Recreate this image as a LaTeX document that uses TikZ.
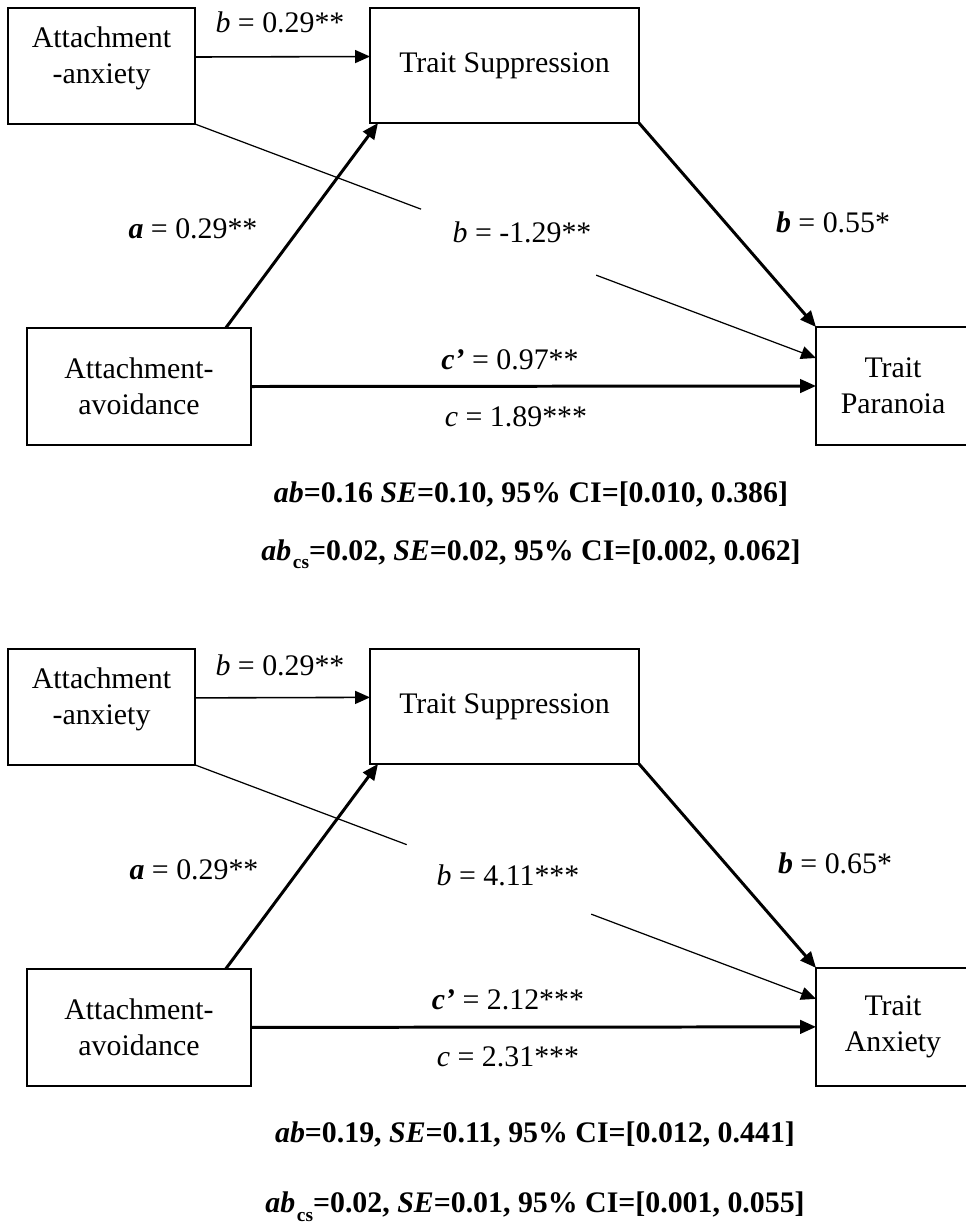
\documentclass[tikz,border=0pt]{standalone}
\usepackage{fontspec}
\setmainfont{Liberation Serif}
\usetikzlibrary{arrows.meta,calc}

\begin{document}
\begin{tikzpicture}[x=0.02cm, y=-0.02cm,
  box/.style={draw, line width=1.1pt, inner sep=0pt, outer sep=0pt, align=center, font=\fontsize{17}{20.5}\selectfont},
  lbl/.style={inner sep=0pt, font=\fontsize{17}{20.5}\selectfont},
  res/.style={inner sep=0pt, anchor=base, font=\fontsize{17}{20.5}\selectfont\bfseries},
  heavyarrow/.style={line width=1.7pt, -{Triangle[length=0.32cm,width=0.27cm]}},
  lightarrow/.style={line width=0.9pt, -{Triangle[length=0.3cm,width=0.26cm]}},
  thinline/.style={line width=0.7pt}]
\useasboundingbox (0,0) rectangle (966,1225);

% First model: trait paranoia
\node[box, line width=0.9pt, minimum width=3.74cm, minimum height=2.32cm] (anxA) at (101.5,66) {};
\node[lbl, align=center] (anxAtxt) at (101.5,58) {Attachment\\-anxiety};
\node[box, minimum width=5.38cm, minimum height=2.30cm] (suppA) at (504.5,65.5) {Trait Suppression};
\node[box, minimum width=4.48cm, minimum height=2.34cm] (avoidA) at (139,386.5) {Attachment-\\avoidance};
\node[box, minimum width=3.08cm, minimum height=2.36cm] (paraA) at (893,386) {Trait\\Paranoia};
% Paths
\draw[lightarrow] ($(anxA.east)+(0,-9)$) -- ($(suppA.west)+(0,-9)$);
\draw[heavyarrow] (avoidA.34) -- ($(suppA.south west)+(8,0)$);
\draw[heavyarrow] (suppA.south east) -- (paraA.north west);
\draw[heavyarrow] (avoidA.east) -- (paraA.west);
\draw[thinline] (anxA.south east) -- ($(anxA.south east)!0.364!(paraA.160)$);
\draw[thinline, -{Triangle[length=0.3cm,width=0.26cm]}] ($(anxA.south east)!0.646!(paraA.160)$) -- (paraA.160);
% Coefficients
\node[lbl] (bAnxA) at (280,22) {\textit{b} = 0.29**};
\node[lbl] (aA) at (193,229) {\textbf{\textit{a}} = 0.29**};
\node[lbl] (bCrossA) at (522,232) {\textit{b} = -1.29**};
\node[lbl] (bParaA) at (833,222) {\textbf{\textit{b}} = 0.55*};
\node[lbl] (cPrimeA) at (510,360) {\textbf{\textit{c’}} = 0.97**};
\node[lbl] (cA) at (516,417) {\textit{c} = 1.89***};
% Indirect effect
\node[res] (abA) at (531,502) {\textit{ab}=0.16 \textit{SE}=0.10, 95\% CI=[0.010, 0.386]};
\node[res] (abcsA) at (531,560) {\textit{ab}\kern1pt\raisebox{-5pt}{\fontsize{11}{11}\selectfont cs}=0.02, \textit{SE}=0.02, 95\% CI=[0.002, 0.062]};

% Second model: trait anxiety
\begin{scope}[yshift=-12.82cm]
\node[box, line width=0.9pt, minimum width=3.74cm, minimum height=2.32cm] (anxB) at (101.5,66) {};
\node[lbl, align=center] (anxBtxt) at (101.5,58) {Attachment\\-anxiety};
\node[box, minimum width=5.38cm, minimum height=2.30cm] (suppB) at (504.5,65.5) {Trait Suppression};
\node[box, minimum width=4.48cm, minimum height=2.34cm] (avoidB) at (139,386.5) {Attachment-\\avoidance};
\node[box, minimum width=3.08cm, minimum height=2.36cm] (anxtB) at (893,386) {Trait\\Anxiety};
% Paths
\draw[lightarrow] ($(anxB.east)+(0,-9)$) -- ($(suppB.west)+(0,-9)$);
\draw[heavyarrow] (avoidB.34) -- ($(suppB.south west)+(8,0)$);
\draw[heavyarrow] (suppB.south east) -- (anxtB.north west);
\draw[heavyarrow] (avoidB.east) -- (anxtB.west);
\draw[thinline] (anxB.south east) -- ($(anxB.south east)!0.341!(anxtB.160)$);
\draw[thinline, -{Triangle[length=0.3cm,width=0.26cm]}] ($(anxB.south east)!0.638!(anxtB.160)$) -- (anxtB.160);
% Coefficients
\node[lbl] (bAnxB) at (280,24) {\textit{b} = 0.29**};
\node[lbl] (aB) at (194,229) {\textbf{\textit{a}} = 0.29**};
\node[lbl] (bCrossB) at (508,234) {\textit{b} = 4.11***};
\node[lbl] (bAnxtB) at (835,222) {\textbf{\textit{b}} = 0.65*};
\node[lbl] (cPrimeB) at (508,359) {\textbf{\textit{c’}} = 2.12***};
\node[lbl] (cB) at (508,416) {\textit{c} = 2.31***};
% Indirect effect
\node[res] (abB) at (535,502) {\textit{ab}=0.19, \textit{SE}=0.11, 95\% CI=[0.012, 0.441]};
\node[res] (abcsB) at (535,572) {\textit{ab}\kern1pt\raisebox{-5pt}{\fontsize{11}{11}\selectfont cs}=0.02, \textit{SE}=0.01, 95\% CI=[0.001, 0.055]};
\end{scope}
\end{tikzpicture}
\end{document}
